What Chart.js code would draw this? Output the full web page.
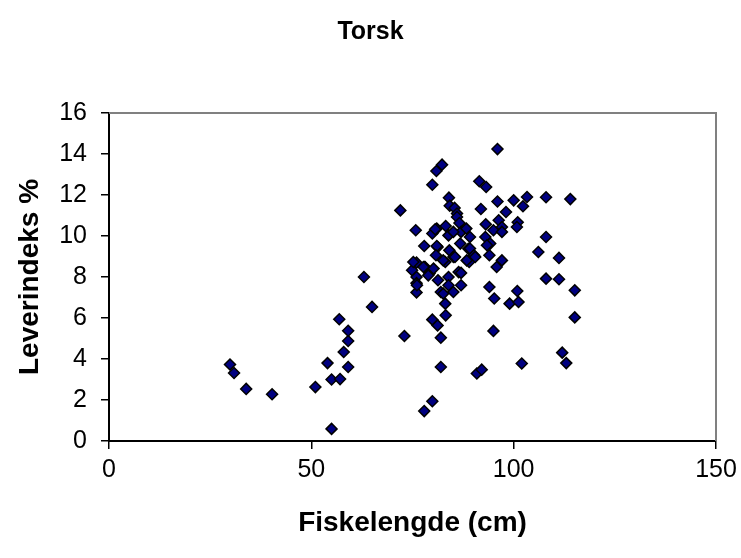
<!DOCTYPE html>
<html lang="no">
<head>
    <meta charset="UTF-8">
    <title>Torsk</title>
    <script src="https://cdn.jsdelivr.net/npm/chart.js"></script>
    <style>
        body { margin: 0; background: #ffffff; }
        #torskChart { display: block; }
    </style>
</head>
<body>
<canvas id="torskChart" width="741" height="558"></canvas>
<script>
// Fiskelengde (cm) og leverindeks (%) for hver torsk
const lengde = [
    29.9, 30.9, 33.9, 40.3,
    51.0, 54.0, 55.0, 55.0, 57.1, 56.9, 58.0, 59.1, 59.1, 59.1,
    63.0, 65.0, 72.0, 73.0,
    75.8, 77.9, 76.0, 74.9, 76.0, 77.9, 76.0, 76.0, 76.1,
    77.9, 79.9, 79.9, 81.2, 82.0, 82.0,
    96.0, 82.3, 80.9, 79.9, 91.5, 93.2,
    84.0, 84.2, 85.4, 86.0,
    91.9, 96.0, 100.0, 103.3, 102.3, 98.1,
    101.0, 96.3, 93.1, 86.0, 86.6,
    79.9, 81.0, 83.2, 87.0, 89.2, 83.9, 80.6, 85.1, 88.3,
    81.2, 84.1, 88.8, 93.0, 95.0, 97.1, 94.2, 81.0, 86.8, 97.1, 93.4, 89.2,
    80.8, 85.1, 90.2, 89.0, 94.0, 97.1, 95.8, 83.1, 75.2, 82.6, 85.5, 90.5, 88.4,
    78.1, 79.2, 81.3, 77.7, 80.2, 78.9, 83.9, 86.4, 87.0,
    87.0, 83.9, 82.0, 85.1, 82.6, 83.1, 83.2,
    94.0, 95.2, 100.9, 99.0, 101.2, 100.8,
    95.0, 90.9, 92.1, 102.0,
    108.0, 114.0, 108.0, 106.1, 111.2, 108.0, 111.2, 115.1, 115.1, 112.0, 113.0
];
const leverindeks = [
    3.73, 3.32, 2.54, 2.28,
    2.63, 3.80, 3.00, 0.59, 3.02, 5.94, 4.34, 3.61, 4.88, 5.38,
    8.00, 6.54, 11.25, 5.12,
    10.28, 9.51, 8.70, 8.33, 8.00, 8.49, 7.70, 7.25, 7.60,
    1.46, 1.94, 5.92, 5.64, 5.04, 3.61,
    14.24, 13.48, 13.17, 12.50, 12.67, 12.39,
    11.87, 11.48, 11.37, 11.10,
    11.32, 11.68, 11.74, 11.90, 11.45, 11.17,
    10.67, 10.77, 10.57, 10.93, 10.63,
    10.12, 10.36, 10.49, 10.20, 9.95, 10.03, 10.33, 10.20, 10.36,
    9.46, 9.30, 9.38, 9.95, 10.28, 10.44, 9.63, 9.51, 9.63, 10.20, 9.55, 9.39,
    9.06, 8.98, 9.06, 8.73, 9.06, 8.81, 8.49, 8.73, 8.73, 8.81, 8.98, 8.98, 8.81,
    8.49, 8.17, 7.84, 8.49, 8.41, 8.08, 8.00, 8.24, 8.20,
    7.60, 7.60, 7.27, 7.27, 7.19, 6.70, 6.13,
    7.51, 6.95, 7.32, 6.70, 6.78, 10.44,
    5.37, 3.29, 3.48, 3.78,
    11.89, 11.80, 9.95, 9.22, 8.93, 7.92, 7.89, 7.35, 6.03, 4.31, 3.80
];

const xTicks = [0, 50, 100, 150];
const yTicks = [0, 2, 4, 6, 8, 10, 12, 14, 16];

const punkter = lengde.map((x, i) => ({ x: x, y: leverindeks[i] }));

const fam = 'Arial, "Liberation Sans", sans-serif';
const tickFont = { family: fam, size: 25 };
const aksefont = { family: fam, size: 28, weight: 'bold' };
const tittelfont = { family: fam, size: 25, weight: 'bold' };

// grå ramme øverst og til høyre i plottområdet
const rammePlugin = {
    id: 'ramme',
    afterDraw(chart) {
        const { ctx, chartArea } = chart;
        ctx.save();
        ctx.strokeStyle = '#808080';
        ctx.lineWidth = 2;
        ctx.beginPath();
        ctx.moveTo(chartArea.left, chartArea.top);
        ctx.lineTo(chartArea.right, chartArea.top);
        ctx.lineTo(chartArea.right, chartArea.bottom);
        ctx.stroke();
        ctx.restore();
    }
};

const hvitBakgrunn = {
    id: 'hvitBakgrunn',
    beforeDraw(chart) {
        const ctx = chart.ctx;
        ctx.save();
        ctx.fillStyle = '#ffffff';
        ctx.fillRect(0, 0, chart.width, chart.height);
        ctx.restore();
    }
};

new Chart(document.getElementById('torskChart').getContext('2d'), {
    type: 'scatter',
    data: {
        datasets: [{
            label: 'Torsk',
            data: punkter,
            pointStyle: 'rectRot',
            pointRadius: 5.5,
            pointHoverRadius: 5.5,
            backgroundColor: '#000080',
            borderColor: '#000000',
            borderWidth: 1.5
        }]
    },
    options: {
        responsive: false,
        animation: false,
        layout: { padding: 0 },
        plugins: {
            legend: { display: false },
            tooltip: { enabled: false },
            title: {
                display: true,
                text: 'Torsk',
                color: '#000000',
                font: tittelfont,
                padding: { top: 17, bottom: 66 }
            }
        },
        scales: {
            x: {
                type: 'linear',
                min: 0,
                max: 150,
                afterBuildTicks: (scale) => { scale.ticks = xTicks.map(v => ({ value: v })); },
                afterFit: (scale) => {
                    scale.height = 117;
                    scale.paddingLeft = 0;
                    scale.paddingRight = 25;
                },
                ticks: { color: '#000000', font: tickFont, padding: 6 },
                grid: { drawOnChartArea: false, drawTicks: true, tickLength: 8, color: '#000000', lineWidth: 1.5 },
                border: { display: true, color: '#000000', width: 2 },
                title: {
                    display: true,
                    text: 'Fiskelengde (cm)',
                    color: '#000000',
                    font: aksefont,
                    padding: { top: 0, bottom: 18 }
                }
            },
            y: {
                type: 'linear',
                min: 0,
                max: 16,
                afterBuildTicks: (scale) => { scale.ticks = yTicks.map(v => ({ value: v })); },
                afterFit: (scale) => { scale.width = 109; },
                ticks: { color: '#000000', font: tickFont, padding: 14 },
                grid: { drawOnChartArea: false, drawTicks: true, tickLength: 8, color: '#000000', lineWidth: 1.5 },
                border: { display: true, color: '#000000', width: 2 },
                title: {
                    display: true,
                    text: 'Leverindeks %',
                    color: '#000000',
                    font: aksefont,
                    padding: { top: 13, bottom: 0 }
                }
            }
        }
    },
    plugins: [hvitBakgrunn, rammePlugin]
});
</script>
</body>
</html>
